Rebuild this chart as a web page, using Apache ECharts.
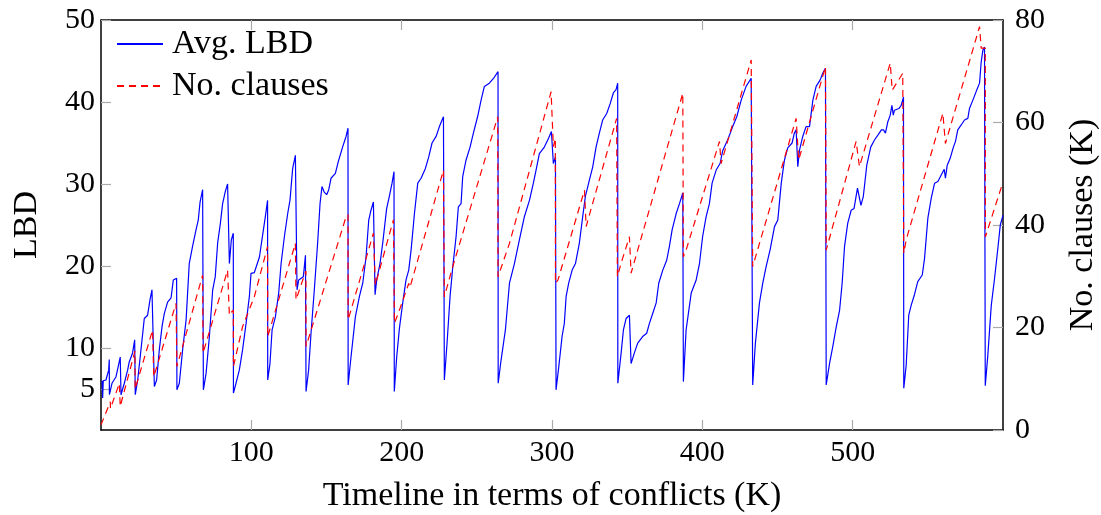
<!DOCTYPE html>
<html>
<head>
<meta charset="utf-8">
<script src="https://cdn.jsdelivr.net/npm/echarts@6/dist/echarts.min.js"></script>
<style>
html,body{margin:0;padding:0;background:#fff;}
#chart{width:1101px;height:515px;}
</style>
</head>
<body>
<div id="chart"></div>
<script>
// Avg. LBD (left axis) : conflicts (K) and values
const lbdConflicts = [0.7,1.1,1.5,3.3,5.1,5.5,5.6,7.3,10,12.8,13.3,15.5,17.7,18.8,21,22.4,22.8,24.4,26.6,28.8,31,32.6,33.9,35,35.5,37,38.8,40.6,42.1,43,44.3,46.6,48.1,50.3,50.5,52.1,54.3,56.6,58.7,60.9,63.2,64.7,65.9,67.6,68.1,69.9,72.1,74.3,76,77.6,79.4,80.9,82.7,84.2,85.4,86.7,88,88.1,89.8,92,94.2,96.5,98.7,99.8,102,103.1,105.4,107.7,109.3,110.8,110.9,112.4,113.8,116,118.2,119.8,122,124.2,125.7,127.5,129.3,130.4,131.5,134.6,136,136.4,138.1,139.7,141.9,144.1,145.7,147,148.5,150.1,151.5,153,155.9,158.1,160.7,163,164.3,164.4,166.3,169.2,171.9,174.1,176.3,178.1,179.6,181.2,182.3,183.4,185.6,187.4,190,191.8,193.6,194.9,195.1,196.7,198.5,200.7,202.9,204.7,206.3,208.5,210.7,212.9,215.8,218,220.2,222.9,225.1,227.8,228.4,230.2,232.2,234,236.2,237.7,239.5,240.6,242.8,245.5,247.7,250.5,252.8,255,258.3,261.2,264.1,264.2,266.1,269,271.7,275,278.3,281.6,285,287.6,289.4,291.6,294.9,297.8,299.6,300.9,302.3,302.7,304.5,306.7,308.2,309.4,311.1,313.4,315.6,318.2,320.4,322.2,324.9,327.1,329.3,331.5,333.7,336.4,338.7,340.8,342.6,343.7,343.8,346,347.5,349.3,351.5,352.6,354.8,357,360.3,363,364.8,367,369.3,371,373.7,376.3,378.1,379.9,382.6,384.8,387,387.4,389.2,392.6,395.9,398.1,400.2,402.5,404.7,406.5,409.2,411.8,413.6,416.9,420.2,422.9,425.8,429.1,432.5,433.5,435.3,438,440.2,442.4,445.1,448,450.2,452.5,454.6,456.8,459.7,461.2,462.4,463.5,464.6,466.8,469,471.3,473.5,475.7,478.4,480.1,481.9,482.4,484.6,486.8,489.1,491.3,493,494.6,496.7,499,500.9,503.2,504.5,505.5,507.1,509.4,512,514.6,516.9,519.1,520.5,521.8,523.4,525,526.1,527,527.8,530.7,532.3,533.8,534,535.6,537.3,538.9,541.1,543.3,546.3,547.8,550,552.3,554.5,556.7,558.9,560.9,561.7,562.9,564.8,567,568.4,569.9,572.2,574.4,576.6,577.7,579.9,582.2,584.4,585.5,586.6,587.7,588.2,589.9,592.2,594.4,596.6,598.2,600];
const lbdValues = [6.0,3.9,6.0,6.1,7.3,8.6,4.3,5.7,6.5,8.9,4.3,5.7,7.3,8.3,9.4,11.0,4.3,6.1,9.8,13.6,14.0,15.9,17.1,17.1,5.3,6.1,9.8,12.6,14.2,14.0,15.6,16.1,18.3,18.5,4.9,5.7,9.8,13.4,20.3,22.4,24.4,25.6,27.8,29.3,4.9,6.9,11.4,17.1,18.7,22.8,25.2,27.6,29.1,30.0,20.3,23.2,24.0,4.5,5.7,7.3,9.8,13.0,16.3,19.1,19.2,19.2,21.1,24.0,26.0,28.0,6.1,8.1,12.2,13.8,16.7,20.3,23.6,26.4,28.0,31.9,33.5,17.1,18.3,18.7,21.3,4.7,7.3,11.8,17.1,22.8,27.6,29.7,29.0,28.7,29.3,30.7,31.3,32.9,34.5,35.8,36.8,5.5,8.9,13.8,16.3,17.9,21.1,25.6,26.8,27.8,16.5,18.3,20.3,22.8,27.0,28.5,30.1,31.5,4.7,8.9,12.4,15.5,18.3,19.5,22.0,26.4,30.1,30.7,31.9,33.3,35.0,35.8,37.0,38.2,6.1,10.6,16.3,19.9,23.6,27.2,27.6,30.9,32.9,34.5,36.2,38.2,40.2,41.9,42.3,42.9,43.7,5.7,8.5,12.2,17.9,20.3,23.2,26.0,28.0,30.1,31.7,33.7,34.5,35.6,36.4,32.5,33.3,4.9,7.7,11.4,13.0,16.3,17.9,19.5,20.3,22.8,26.0,28.5,30.5,32.1,34.5,36.2,37.8,38.6,39.8,41.1,41.5,42.3,5.7,9.4,12.2,13.6,14.0,8.1,9.4,10.6,11.4,11.8,13.0,14.2,15.5,17.9,19.5,20.7,22.4,24.4,26.4,27.6,28.9,5.9,12.2,16.7,18.3,20.3,23.6,26.0,27.6,30.1,31.7,32.5,34.1,35.4,37.0,38.2,40.2,41.9,42.9,5.5,10.6,15.5,17.9,19.9,22.0,24.8,25.6,30.1,32.9,34.4,35.0,36.2,36.6,32.1,34.1,35.8,37.0,37.0,40.2,41.9,42.7,43.5,44.1,5.5,8.1,10.2,12.6,14.6,17.9,22.4,25.2,26.8,27.0,29.5,29.5,27.4,28.5,32.3,34.5,35.4,36.0,36.6,36.6,36.2,37.6,38.4,39.6,38.4,39.0,39.2,39.6,40.6,5.1,7.9,14.0,15.2,16.5,18.1,18.9,20.9,25.8,28.3,30.1,30.3,31.1,31.8,30.7,32.3,33.1,34.5,35.2,36.6,37.2,37.8,38.0,39.2,40.2,41.3,42.3,44.9,46.3,46.7,5.4,9.1,15.2,18.5,22.2,25.0,26.2];

// No. clauses in K (right axis)
const clauseConflicts = [0,6.2,6.3,12.2,12.8,22.6,22.7,34.3,35.1,49.9,50.5,67.6,67.9,84.2,85.4,86.7,88.0,88.1,94.2,102,110.8,110.9,114.2,129.3,129.7,135.3,136.3,136.4,163,164.3,164.4,181.2,182.5,194.5,195.1,195.2,198.5,204.7,205.5,227.8,228.4,234,263.9,264.1,271.7,299.4,300.9,302.2,302.3,304,321.6,322.7,343,343.5,345.9,351.5,352.6,387,387.4,389.2,411.4,412.5,432.5,433.5,462.4,464.1,481.9,482.4,502.3,504.5,525,526.3,533.3,534,535.6,560,561.7,584.4,585.5,588.2,588.3,600];
const clauseValues = [1.0,5.5,4.2,9.1,4.6,15.4,8.0,19.5,10.4,24.7,12.4,30.2,15.0,31.2,22.4,23.0,23.4,12.4,20.2,26.0,35.8,18.2,21.5,36.4,25.4,30.2,31.0,16.3,41.6,42.0,21.5,38.4,28.3,41.0,41.3,20.8,23.4,28.6,27.8,50.7,26.0,31.9,61.1,29.9,36.4,66.0,55.3,56.9,28.6,29.3,46.8,39.7,60.8,29.9,32.5,37.7,30.6,65.7,33.8,35.1,56.3,52.0,72.2,31.9,60.8,52.7,70.9,35.1,56.3,51.4,71.6,66.3,69.6,34.5,37.1,61.8,55.9,78.7,74.5,74.5,37.7,48.4];

const xTicks = [100,200,300,400,500];
const lbdTicks = [5,10,20,30,40,50];
const clauseTicks = [0,20,40,60,80];

const zip = (a,b) => a.map((v,i)=>[v,b[i]]);
const FONT = 'Liberation Serif';
const FS = 30;   // tick labels
const TFS = 34;  // titles and legend

const chart = echarts.init(document.getElementById('chart'), null, {renderer:'canvas'});
chart.setOption({
  animation:false,
  backgroundColor:'#ffffff',
  grid:{left:101,right:98,top:20,bottom:85,containLabel:false,outerBoundsMode:'none'},
  legend:{
    orient:'vertical', left:116, top:27, itemGap:8, padding:0,
    itemWidth:46, itemHeight:14,
    itemStyle:{opacity:0},
    textStyle:{fontFamily:FONT,fontSize:TFS,color:'#000',padding:[0,0,0,4]},
    data:['Avg. LBD','No. clauses']
  },
  xAxis:[{
    type:'value', min:0, max:600, position:'bottom',
    name:'Timeline in terms of conflicts (K)', nameLocation:'middle', nameGap:49,
    nameTextStyle:{fontFamily:FONT,fontSize:TFS,color:'#000'},
    axisLine:{show:true,onZero:false,lineStyle:{color:'#000',width:1.5}},
    axisTick:{show:true,inside:true,length:10,customValues:xTicks,lineStyle:{color:'#aaa',width:1.2}},
    axisLabel:{show:true,customValues:xTicks,margin:8,fontFamily:FONT,fontSize:FS,color:'#000'},
    splitLine:{show:false}
  },{
    type:'value', min:0, max:600, position:'top',
    axisLine:{show:true,onZero:false,lineStyle:{color:'#000',width:1.5}},
    axisTick:{show:true,inside:true,length:10,customValues:xTicks,lineStyle:{color:'#aaa',width:1.2}},
    axisLabel:{show:false},
    splitLine:{show:false}
  }],
  yAxis:[{
    type:'value', min:0, max:50, position:'left',
    name:'LBD', nameLocation:'middle', nameGap:57,
    nameTextStyle:{fontFamily:FONT,fontSize:TFS,color:'#000'},
    axisLine:{show:true,onZero:false,lineStyle:{color:'#000',width:1.5}},
    axisTick:{show:true,inside:true,length:10,customValues:lbdTicks,lineStyle:{color:'#aaa',width:1.2}},
    axisLabel:{show:true,customValues:lbdTicks,margin:6,fontFamily:FONT,fontSize:FS,color:'#000'},
    splitLine:{show:false}
  },{
    type:'value', min:0, max:80, interval:20, position:'right',
    name:'No. clauses (K)', nameLocation:'middle', nameGap:63,
    nameTextStyle:{fontFamily:FONT,fontSize:TFS,color:'#000'},
    axisLine:{show:true,onZero:false,lineStyle:{color:'#000',width:1.5}},
    axisTick:{show:true,inside:true,length:10,customValues:clauseTicks,lineStyle:{color:'#aaa',width:1.2}},
    axisLabel:{show:true,customValues:clauseTicks,margin:12,fontFamily:FONT,fontSize:FS,color:'#000'},
    splitLine:{show:false}
  }],
  series:[{
    name:'Avg. LBD', type:'line', xAxisIndex:0, yAxisIndex:0,
    data:zip(lbdConflicts,lbdValues), symbol:'none', showSymbol:false,
    lineStyle:{color:'#0000ff',width:1.2}, itemStyle:{color:'#0000ff'}
  },{
    name:'No. clauses', type:'line', xAxisIndex:0, yAxisIndex:1,
    data:zip(clauseConflicts,clauseValues), symbol:'none', showSymbol:false,
    lineStyle:{color:'#ff0000',width:1.2,type:[7,5]}, itemStyle:{color:'#ff0000'}
  }]
});
</script>
</body>
</html>
